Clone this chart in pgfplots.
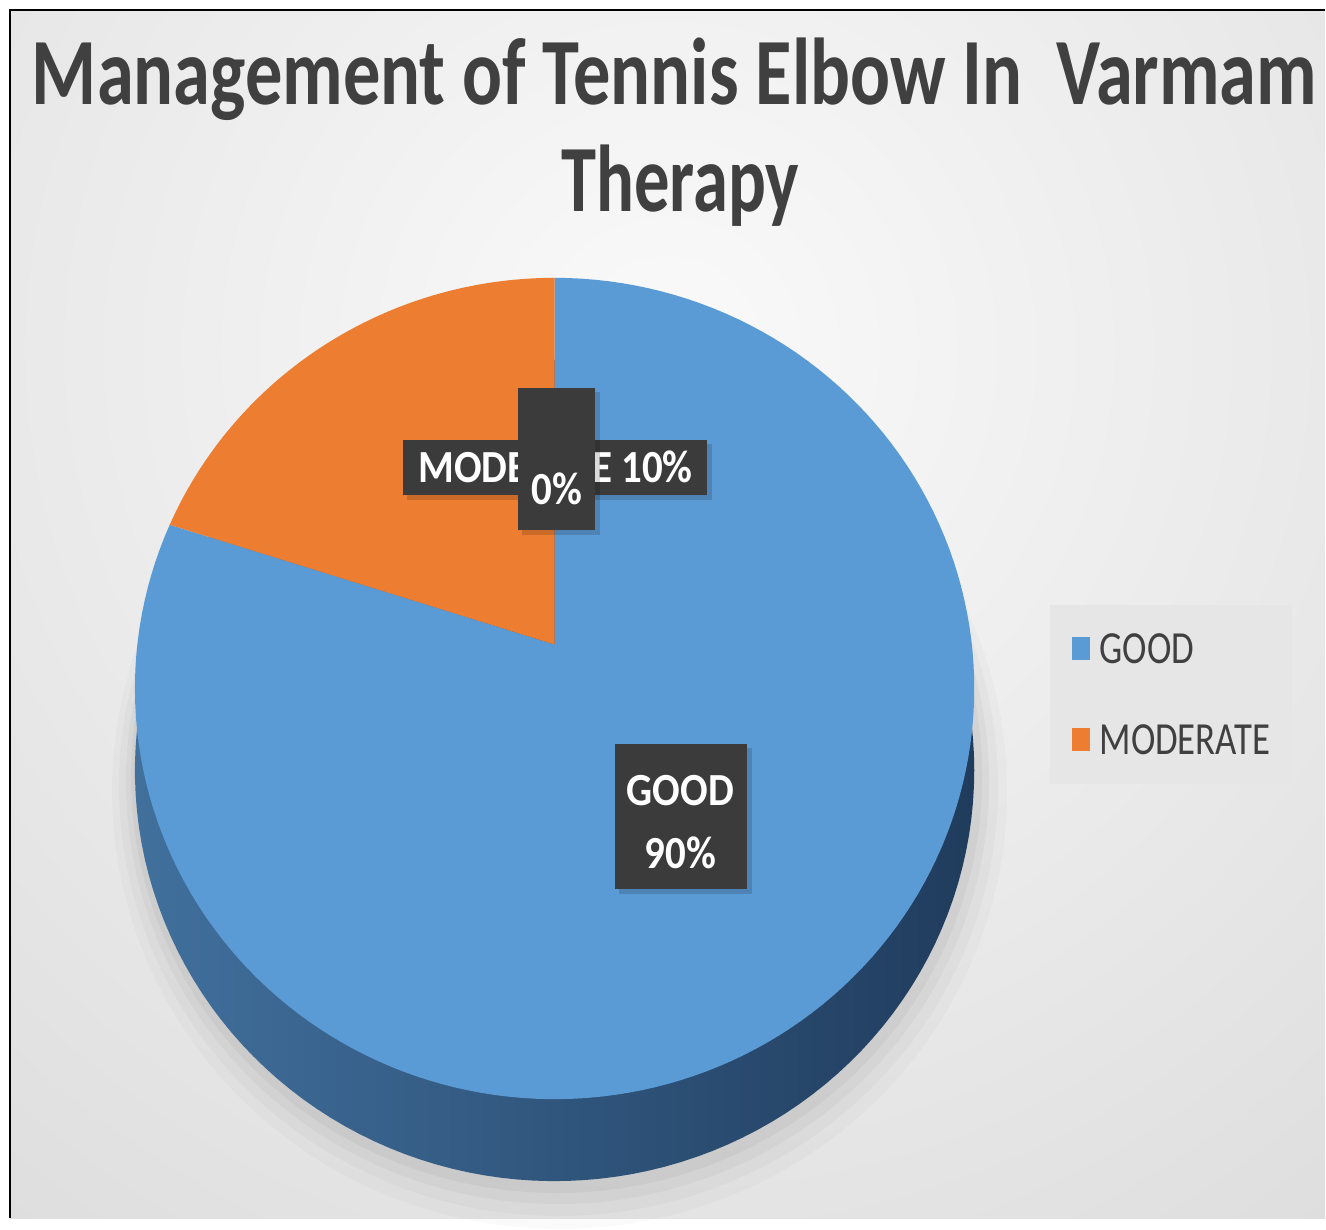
\documentclass[border=0pt]{standalone}
\usepackage{pgfplots}
\pgfplotsset{compat=1.18}
\usepackage{fontspec}
\setmainfont{Carlito}
\usepackage{graphicx}
\definecolor{pieblue}{HTML}{5B9BD5}
\definecolor{pieorange}{HTML}{ED7D31}
\definecolor{sideA}{HTML}{41709D}
\definecolor{sideB}{HTML}{23446A}
\definecolor{sideC}{HTML}{203C5D}
\definecolor{lblbox}{HTML}{3B3B3B}
\definecolor{titlegray}{HTML}{404040}
\definecolor{legbg}{HTML}{E6E6E6}
\newcommand\lbl{\fontsize{23pt}{26pt}\selectfont\bfseries}
\newcommand\ttl{\fontsize{47.5pt}{50pt}\selectfont\bfseries}
\begin{document}
\begin{tikzpicture}
\begin{axis}[
  width=663pt, height=609.5pt, scale only axis,
  xmin=0, xmax=1326, ymin=0, ymax=1219, y dir=reverse,
  hide axis, clip=false,
  legend style={at={(axis cs:1050,605)}, anchor=north west,
    fill=legbg, draw=none, inner xsep=11pt, inner ysep=14.5pt,
    row sep=30.5pt, text=titlegray,
    font=\fontsize{23pt}{26pt}\selectfont,
    nodes={inner sep=0pt, text height=15pt, text depth=0pt},
    /tikz/every odd column/.append style={column sep=5pt}},
  legend cell align=left,
  legend image code/.code={\fill[#1] (0pt,-5.5pt) rectangle (9pt,6pt);},
]
% page and background
\fill[white] (axis cs:0,0) rectangle (axis cs:1326,1219);
\begin{scope}
\clip (axis cs:10,10) rectangle (axis cs:1326,1219);
\shade[inner color=white!98!black, outer color=white!80!black]
  (axis cs:-1132,-1450) rectangle (axis cs:2468,2150);
\end{scope}
\draw[black, line width=1pt] (axis cs:10,1219) -- (axis cs:10,10) -- (axis cs:1326,10);

% soft shadow of the pie
\addplot[forget plot, fill=black, fill opacity=0.02, draw=none, domain=0:360, samples=120]
  ({560+448*cos(x)},{792-438*sin(x)}) -- cycle;
\addplot[forget plot, fill=black, fill opacity=0.025, draw=none, domain=0:360, samples=120]
  ({559+440*cos(x)},{787-430*sin(x)}) -- cycle;
\addplot[forget plot, fill=black, fill opacity=0.03, draw=none, domain=0:360, samples=120]
  ({558+432*cos(x)},{782-423*sin(x)}) -- cycle;
\addplot[forget plot, fill=black, fill opacity=0.035, draw=none, domain=0:360, samples=120]
  ({557+426*cos(x)},{777-417*sin(x)}) -- cycle;

% side of the 3D pie
\addplot[forget plot, draw=none, left color=sideA, middle color=sideB, right color=sideC,
  domain=0:360, samples=160]
  ({555+420*cos(x)},{771-411*sin(x)}) -- cycle;

% wedges (top face): GOOD 90%, MODERATE 10%
\addplot[fill=pieblue, draw=none, domain=156.5:450, samples=160]
  ({555+420*cos(x)},{689-411*sin(x)}) -- (axis cs:555,645) -- cycle;
\addlegendentry{\scalebox{0.8}[1]{GOOD}}
\addplot[fill=pieorange, draw=none, domain=90:156.5, samples=60]
  ({555+420*cos(x)},{689-411*sin(x)}) -- (axis cs:555,645) -- cycle;
\addlegendentry{\scalebox{0.8}[1]{MODERATE}}

% title
\node[anchor=base, text=titlegray, inner sep=0pt] at (axis cs:675,105)
  {\resizebox{643pt}{\height}{\ttl Management of Tennis Elbow In\ \ Varmam}};
\node[anchor=base, text=titlegray, inner sep=0pt] at (axis cs:681,212)
  {\resizebox{119pt}{\height}{\ttl Therapy}};

% data labels
\fill[black, opacity=0.15] (axis cs:619,749) rectangle (axis cs:753,895);
\fill[lblbox] (axis cs:615,745) rectangle (axis cs:748,890);
\node[anchor=base, text=white, inner sep=0pt] at (axis cs:681,806) {\scalebox{0.89}[1]{\lbl GOOD}};
\node[anchor=base, text=white, inner sep=0pt] at (axis cs:681,869) {\scalebox{0.89}[1]{\lbl 90\%}};

\fill[black, opacity=0.15] (axis cs:407,444) rectangle (axis cs:713,500);
\fill[lblbox] (axis cs:403,440) rectangle (axis cs:708,495);
\node[anchor=base, text=white, inner sep=0pt] at (axis cs:556,483) {\scalebox{0.89}[1]{\lbl MODERATE 10\%}};

\fill[black, opacity=0.15] (axis cs:522,392) rectangle (axis cs:600,535);
\fill[lblbox] (axis cs:518,388) rectangle (axis cs:595,530);
\node[anchor=base, text=white, inner sep=0pt] at (axis cs:557,505) {\scalebox{0.89}[1]{\lbl 0\%}};
\end{axis}
\end{tikzpicture}
\end{document}
